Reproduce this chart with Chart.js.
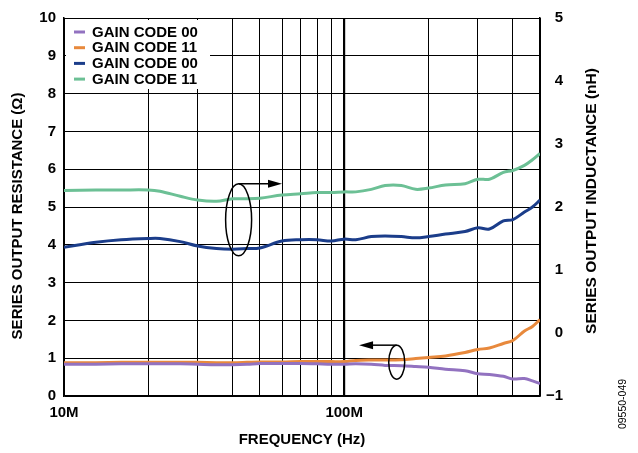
<!DOCTYPE html>
<html>
<head>
<meta charset="utf-8">
<script src="https://cdn.jsdelivr.net/npm/chart.js@4.4.0/dist/chart.umd.min.js"></script>
<style>
  html, body { margin: 0; padding: 0; background: #fff; }
  #wrap { width: 638px; height: 453px; position: relative; }
</style>
</head>
<body>
<div id="wrap"><canvas id="chart"></canvas></div>
<script>
// frequency points (MHz)
const freqMHz = [10, 13, 16, 20, 22, 26, 30, 35, 40, 45, 50, 60, 70, 80, 90, 100,
  110, 125, 140, 160, 180, 200, 230, 270, 300, 330, 370, 400, 440, 470, 500];

// series output resistance (ohm) - left axis
const resCode00 = [0.84, 0.84, 0.85, 0.85, 0.85, 0.85, 0.84, 0.83, 0.83, 0.84, 0.86, 0.86, 0.86, 0.85, 0.84, 0.84,
  0.85, 0.84, 0.81, 0.80, 0.78, 0.76, 0.71, 0.67, 0.59, 0.57, 0.52, 0.45, 0.46, 0.40, 0.33];
const resCode11 = [0.88, 0.88, 0.89, 0.89, 0.89, 0.89, 0.89, 0.88, 0.88, 0.89, 0.90, 0.90, 0.91, 0.91, 0.91, 0.91,
  0.94, 0.95, 0.95, 0.96, 0.99, 1.02, 1.06, 1.15, 1.23, 1.27, 1.39, 1.47, 1.72, 1.84, 2.02];

// series output inductance (nH) - right axis
const indCode00 = [1.36, 1.44, 1.48, 1.50, 1.50, 1.45, 1.38, 1.34, 1.33, 1.34, 1.35, 1.46, 1.48, 1.48, 1.46, 1.49,
  1.48, 1.53, 1.54, 1.53, 1.51, 1.53, 1.57, 1.61, 1.67, 1.65, 1.78, 1.80, 1.92, 2.00, 2.11];
const indCode11 = [2.26, 2.27, 2.27, 2.27, 2.25, 2.17, 2.11, 2.09, 2.13, 2.13, 2.14, 2.19, 2.21, 2.23, 2.23, 2.24,
  2.24, 2.28, 2.34, 2.34, 2.28, 2.30, 2.35, 2.37, 2.44, 2.44, 2.55, 2.58, 2.66, 2.75, 2.85];

// axes
const gridFreqs = [10, 20, 30, 40, 50, 60, 70, 80, 90, 100, 200, 300, 400, 500];
const freqLabels = { 10: "10M", 100: "100M" };
const legendLabels = ["GAIN CODE 00", "GAIN CODE 11", "GAIN CODE 00", "GAIN CODE 11"];
const colors = ["#9272c0", "#e8893c", "#1b3d8a", "#6cc095"];

const FONT = "'Liberation Sans', Arial, sans-serif";

const pts = (ys) => freqMHz.map((f, i) => ({ x: f, y: ys[i] }));

const lineStyle = (c) => ({
  borderColor: c,
  backgroundColor: c,
  borderWidth: 3,
  pointRadius: 0,
  tension: 0.35,
  fill: false,
});

// legend, annotations, titles
const decorPlugin = {
  id: "decor",
  afterDraw(chart) {
    const { ctx, chartArea, scales } = chart;
    const x = scales.x, y = scales.y;
    ctx.save();

    // legend box
    ctx.fillStyle = "#fff";
    ctx.fillRect(chartArea.left + 2, chartArea.top + 2, 144, 69);
    ctx.font = "bold 15px " + FONT;
    ctx.textBaseline = "middle";
    ctx.textAlign = "left";
    legendLabels.forEach((lbl, i) => {
      const yy = chartArea.top + 14 + i * 15.7;
      ctx.strokeStyle = colors[i];
      ctx.lineWidth = 3;
      ctx.beginPath();
      ctx.moveTo(chartArea.left + 10, yy);
      ctx.lineTo(chartArea.left + 21, yy);
      ctx.stroke();
      ctx.fillStyle = "#000";
      ctx.fillText(lbl, chartArea.left + 28, yy + 0.5);
    });

    // ellipses with arrows
    ctx.strokeStyle = "#000";
    ctx.fillStyle = "#000";
    ctx.lineWidth = 1.5;
    const mark = (f, ohm, rx, ry, fEnd) => {
      const cx = x.getPixelForValue(f), cy = y.getPixelForValue(ohm);
      ctx.beginPath();
      ctx.ellipse(cx, cy, rx, ry, 0, 0, Math.PI * 2);
      ctx.stroke();
      const ty = cy - ry;
      const ex = x.getPixelForValue(fEnd);
      const dir = ex > cx ? 1 : -1;
      ctx.beginPath();
      ctx.moveTo(cx, ty);
      ctx.lineTo(ex - dir * 12, ty);
      ctx.stroke();
      ctx.beginPath();
      ctx.moveTo(ex, ty);
      ctx.lineTo(ex - dir * 14, ty - 4);
      ctx.lineTo(ex - dir * 14, ty + 4);
      ctx.closePath();
      ctx.fill();
    };
    mark(42, 4.66, 13, 36, 60);
    mark(154, 0.895, 8, 17, 113);

    // axis titles
    ctx.fillStyle = "#000";
    ctx.textAlign = "center";
    ctx.textBaseline = "middle";
    ctx.font = "bold 15px " + FONT;
    ctx.fillText("FREQUENCY (Hz)", (chartArea.left + chartArea.right) / 2, 440);

    ctx.save();
    ctx.translate(18, 216);
    ctx.rotate(-Math.PI / 2);
    ctx.fillText("SERIES OUTPUT RESISTANCE (\u03A9)", 0, 0);
    ctx.restore();

    ctx.save();
    ctx.translate(592, 201);
    ctx.rotate(-Math.PI / 2);
    ctx.font = "bold 15.5px " + FONT;
    ctx.fillText("SERIES OUTPUT INDUCTANCE (nH)", 0, 0);
    ctx.restore();

    ctx.save();
    ctx.translate(623, 404);
    ctx.rotate(-Math.PI / 2);
    ctx.font = "10.5px " + FONT;
    ctx.fillText("09550-049", 0, 0);
    ctx.restore();

    ctx.restore();
  },
};

const tickFont = { family: FONT, size: 15, weight: "bold" };

new Chart(document.getElementById("chart"), {
  type: "line",
  data: {
    datasets: [
      { label: legendLabels[0], data: pts(resCode00), yAxisID: "y", ...lineStyle(colors[0]) },
      { label: legendLabels[1], data: pts(resCode11), yAxisID: "y", ...lineStyle(colors[1]) },
      { label: legendLabels[2], data: pts(indCode00), yAxisID: "y2", ...lineStyle(colors[2]) },
      { label: legendLabels[3], data: pts(indCode11), yAxisID: "y2", ...lineStyle(colors[3]) },
    ],
  },
  options: {
    responsive: true,
    maintainAspectRatio: false,
    animation: false,
    layout: { padding: { top: 14, left: 0, right: 75, bottom: 0 } },
    plugins: {
      legend: { display: false },
      tooltip: { enabled: false },
    },
    scales: {
      x: {
        type: "logarithmic",
        min: 10,
        max: 500,
        afterBuildTicks: (s) => { s.ticks = gridFreqs.map((v) => ({ value: v })); },
        afterFit: (s) => { s.height = 57; },
        ticks: {
          autoSkip: false,
          maxRotation: 0,
          padding: 8,
          color: "#000",
          font: tickFont,
          callback: (v) => freqLabels[v] || "",
        },
        grid: {
          color: "#000",
          lineWidth: (c) => (c.tick && c.tick.value === 100 ? 2.2 : 1),
          drawTicks: false,
        },
        border: { color: "#000", width: 1.5 },
      },
      y: {
        position: "left",
        min: 0,
        max: 10,
        afterFit: (s) => { s.width = 64; },
        ticks: { stepSize: 1, padding: 8, color: "#000", font: tickFont },
        grid: { color: "#000", lineWidth: 1, drawTicks: false },
        border: { color: "#000", width: 1.5 },
      },
      y2: {
        position: "right",
        min: -1,
        max: 5,
        afterFit: (s) => { s.width = 23; },
        ticks: {
          stepSize: 1,
          padding: 9,
          crossAlign: "far",
          color: "#000",
          font: tickFont,
          callback: (v) => String(v).replace("-", "\u2212"),
        },
        grid: { display: false, drawTicks: false },
        border: { color: "#000", width: 1.5 },
      },
    },
  },
  plugins: [decorPlugin],
});
</script>
</body>
</html>
